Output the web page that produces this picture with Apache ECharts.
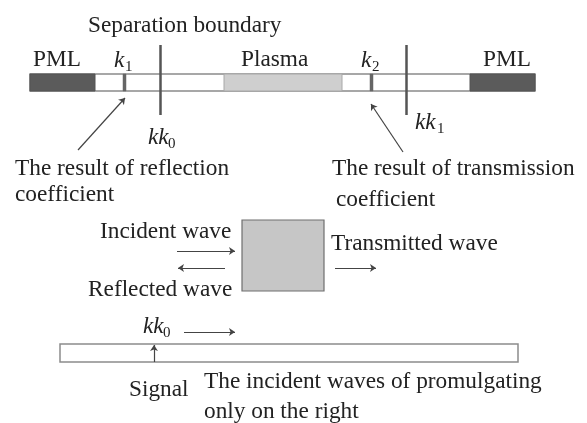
<!DOCTYPE html>
<html><head><meta charset="utf-8">
<style>html,body{margin:0;padding:0;background:#fff}#c{width:587px;height:423px}</style>
<script src="https://cdn.jsdelivr.net/npm/echarts@6/dist/echarts.min.js"></script></head>
<body><div id="c"></div>
<script>
// diagram regions: x0, y0, x1, y1, fill, border, border width
const regions = [
  [30, 74, 535, 91, '#ffffff', '#8a8a8a', 1.5],
  [30, 74, 95, 91, '#5b5b5b', '#555555', 1],
  [224, 74, 342, 91, '#cfcfcf', '#a8a8a8', 1],
  [470, 74, 535, 91, '#5b5b5b', '#555555', 1],
  [123, 74, 126, 91, '#666666', '#666666', 0.5],
  [370, 74, 373, 91, '#666666', '#666666', 0.5],
  [242, 220, 324, 291, '#c6c6c6', '#6f6f6f', 1.2],
  [60, 344, 518, 362, '#ffffff', '#8c8c8c', 1.5]
];
// plain lines: x0, y0, x1, y1
const boundaries = [[160, 45, 160, 115], [406, 45, 406, 115]];
// arrows: tail x, tail y, head x, head y
const arrows = [
  [78, 150, 125, 98], [403, 152, 371, 104],
  [177, 251, 235, 251], [225, 268, 178, 268], [335, 268, 376, 268],
  [184, 332, 235, 332], [154, 362, 154, 345]
];
// labels: left x, middle y, text, font size, italic
const labels = [
  [88, 26, 'Separation boundary', 23.3, 0],
  [33, 60, 'PML', 23.3, 0],
  [114, 61, 'k', 23.3, 1], [125, 67, '1', 15, 0],
  [241, 60, 'Plasma', 23.3, 0],
  [361, 61, 'k', 23.3, 1], [372, 67, '2', 15, 0],
  [483, 60, 'PML', 23.3, 0],
  [148, 138, 'kk', 23.3, 1], [168, 144, '0', 15, 0],
  [415, 123, 'kk', 23.3, 1], [437, 129, '1', 15, 0],
  [15, 169, 'The result of reflection', 23.3, 0],
  [15, 195, 'coefficient', 23.3, 0],
  [332, 169, 'The result of transmission', 23.3, 0],
  [336, 200, 'coefficient', 23.3, 0],
  [100, 232, 'Incident wave', 23.3, 0],
  [331, 244, 'Transmitted wave', 23.3, 0],
  [88, 290, 'Reflected wave', 23.3, 0],
  [143, 327, 'kk', 23.3, 1], [163, 333, '0', 15, 0],
  [129, 390, 'Signal', 23.3, 0],
  [204, 382, 'The incident waves of promulgating', 23.3, 0],
  [204, 412, 'only on the right', 23.3, 0]
];

const chart = echarts.init(document.getElementById('c'));
chart.setOption({
  animation: false,
  backgroundColor: '#fff',
  grid: {left: 0, right: 0, top: 0, bottom: 0},
  xAxis: {type: 'value', min: 0, max: 587, show: false},
  yAxis: {type: 'value', min: 0, max: 423, inverse: true, show: false},
  series: [
    {
      type: 'custom', coordinateSystem: 'cartesian2d', silent: true, z: 1,
      data: regions,
      renderItem(p, api) {
        const a = api.coord([api.value(0), api.value(1)]);
        const b = api.coord([api.value(2), api.value(3)]);
        const r = regions[p.dataIndex];
        return {type: 'rect', shape: {x: a[0], y: a[1], width: b[0]-a[0], height: b[1]-a[1]},
          style: {fill: r[4], stroke: r[5], lineWidth: r[6]}};
      }
    },
    {
      type: 'lines', coordinateSystem: 'cartesian2d', silent: true, z: 2,
      symbol: 'none',
      lineStyle: {color: '#555', width: 2.5, opacity: 1},
      data: boundaries.map(l => ({coords: [[l[0], l[1]], [l[2], l[3]]]}))
    },
    {
      type: 'lines', coordinateSystem: 'cartesian2d', silent: true, z: 3,
      symbol: ['none', 'arrow'], symbolSize: 6,
      lineStyle: {color: '#444', width: 1.2, opacity: 1},
      data: arrows.map(l => ({coords: [[l[0], l[1]], [l[2], l[3]]]}))
    },
    {
      type: 'custom', coordinateSystem: 'cartesian2d', silent: true, z: 4,
      data: labels,
      encode: {x: 0, y: 1},
      renderItem(p, api) {
        const l = labels[p.dataIndex];
        const c = api.coord([l[0], l[1]]);
        return {type: 'text', x: c[0], y: c[1],
          style: {text: l[2], fill: '#222',
            font: (l[4] ? 'italic ' : '') + l[3] + 'px "Liberation Serif"',
            textAlign: 'left', textVerticalAlign: 'middle'}};
      }
    }
  ]
});
</script></body></html>
